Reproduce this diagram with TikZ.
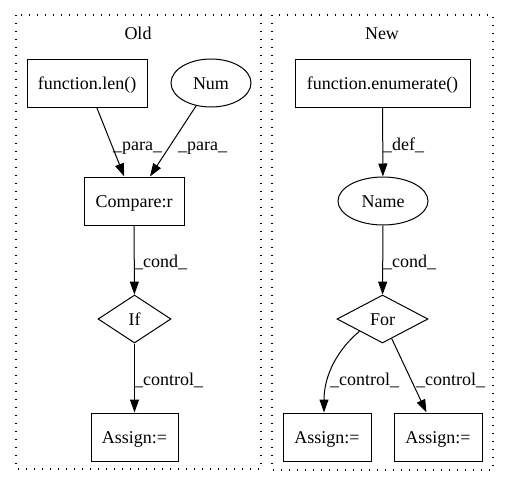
\documentclass[tikz,border=0pt]{standalone}
\usepackage{fontspec}
\setmainfont{Liberation Serif}
\usetikzlibrary{shapes.geometric,arrows.meta}
\begin{document}
\begin{tikzpicture}[x=1pt,y=-1pt,
  font=\fontsize{18}{20}\selectfont,
  every node/.style={inner sep=0pt, text height=12pt, text depth=0pt},
  gbox/.style={draw, line width=1pt, rectangle, minimum height=48pt},
  gell/.style={draw, line width=1pt, ellipse, minimum height=48pt},
  gdia/.style={draw, line width=1pt, diamond, aspect=1.5, minimum height=48pt},
  arr/.style={line width=1pt, -{Triangle[length=13pt,width=9pt]}},
  lab/.style={anchor=base west, text height=, text depth=},
  clus/.style={line width=1.25pt, dash pattern=on 1.25pt off 6.75pt},
  ttl/.style={anchor=base}
]
\useasboundingbox (0,0) rectangle (509,488);
% clusters
\draw[clus] (16,15) rectangle (261,469);
\draw[clus] (272,15) rectangle (493,470);
\node[ttl] (told) at (138,39) {Old};
\node[ttl] (tnew) at (382,39) {New};
% Old nodes
\node[gbox, minimum width=120pt] (len) at (87,83) {function.len()};
\node[gell, minimum width=80pt] (num) at (211,83) {Num};
\node[gbox, minimum width=100pt] (cmp) at (134,201) {Compare:r};
\node[gdia, minimum width=73pt] (if) at (134.5,319) {If};
\node[gbox, minimum width=87pt] (asg) at (134.5,437) {Assign:=};
% New nodes
\node[gbox, minimum width=175pt] (enu) at (382.5,83) {function.enumerate()};
\node[gell, minimum width=90pt] (name) at (383,201) {Name};
\node[gdia, minimum width=91pt] (for) at (382.5,319) {For};
\node[gbox, minimum width=88pt] (a1) at (327,437) {Assign:=};
\node[gbox, minimum width=88pt] (a2) at (438,437) {Assign:=};
% Old edges
\draw[arr] (len) -- (cmp);
\draw[arr] (num) -- (cmp);
\draw[arr] (cmp) -- (if);
\draw[arr] (if) -- (asg);
\node[lab] (lp1) at (113,150) {\_para\_};
\node[lab] (lp2) at (178,150) {\_para\_};
\node[lab] (lc1) at (134,267) {\_cond\_};
\node[lab] (lk1) at (134,385) {\_control\_};
% New edges
\draw[arr] (enu) -- (name);
\draw[arr] (name) -- (for);
\draw[arr] (for.south west) .. controls (338,349) and (324,375) .. ([xshift=-3pt]a1.north);
\draw[arr] (for) -- (a2);
\node[lab] (ld) at (383,150) {\_def\_};
\node[lab] (lc2) at (383,267) {\_cond\_};
\node[lab] (lk2) at (330,385) {\_control\_};
\node[lab] (lk3) at (416,385) {\_control\_};
\end{tikzpicture}
\end{document}
